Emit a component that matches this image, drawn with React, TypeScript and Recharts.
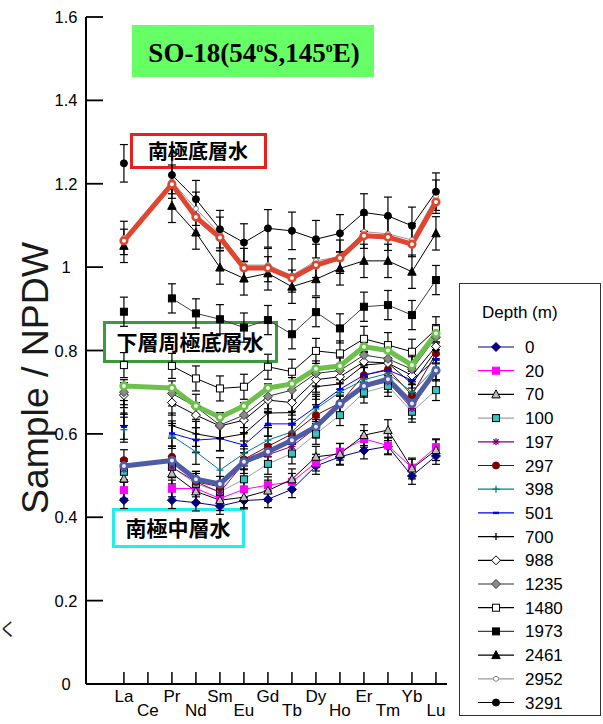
import React from 'react';
import { ComposedChart, Line, XAxis, YAxis, ErrorBar, Legend, Customized } from 'recharts';

// ---------- data ----------
const elements = ['La', 'Ce', 'Pr', 'Nd', 'Sm', 'Eu', 'Gd', 'Tb', 'Dy', 'Ho', 'Er', 'Tm', 'Yb', 'Lu'];
const yTicks = [0, 0.2, 0.4, 0.6, 0.8, 1, 1.2, 1.4, 1.6];
const depthLabels = ['0', '20', '70', '100', '197', '297', '398', '501', '700', '988', '1235', '1480', '1973', '2461', '2952', '3291'];

const d0 = [0.441, null, 0.441, 0.435, 0.427, 0.44, 0.443, 0.467, 0.523, 0.545, 0.56, 0.57, 0.499, 0.547];
const d20 = [0.465, null, 0.469, 0.469, 0.445, 0.467, 0.477, 0.485, 0.531, 0.557, 0.588, 0.572, 0.519, 0.568];
const d70 = [0.493, null, 0.505, 0.462, 0.441, 0.448, 0.464, 0.491, 0.545, 0.552, 0.597, 0.609, 0.517, 0.561];
const d100 = [0.509, null, 0.521, 0.48, 0.461, 0.491, 0.528, 0.553, 0.6, 0.645, 0.699, 0.715, 0.653, 0.705];
const d197 = [0.515, null, 0.52, 0.485, 0.46, 0.53, 0.55, 0.57, 0.615, 0.668, 0.713, 0.725, 0.661, 0.752];
const d297 = [0.537, null, 0.545, 0.485, 0.473, 0.539, 0.57, 0.6, 0.645, 0.674, 0.741, 0.755, 0.693, 0.793];
const d398 = [0.61, null, 0.595, 0.557, 0.513, 0.553, 0.585, 0.605, 0.66, 0.7, 0.73, 0.745, 0.7, 0.76];
const d501 = [0.617, null, 0.601, 0.585, 0.589, 0.573, 0.624, 0.624, 0.665, 0.707, 0.741, 0.753, 0.729, 0.779];
const d700 = [0.65, null, 0.62, 0.6, 0.59, 0.6, 0.65, 0.651, 0.713, 0.72, 0.765, 0.77, 0.72, 0.8];
const d988 = [0.693, null, 0.675, 0.645, 0.619, 0.633, 0.681, 0.675, 0.73, 0.737, 0.773, 0.77, 0.74, 0.81];
const d1235 = [0.7, null, 0.697, 0.665, 0.621, 0.645, 0.69, 0.705, 0.745, 0.752, 0.789, 0.78, 0.755, 0.832];
const d1480 = [0.765, null, 0.763, 0.733, 0.709, 0.713, 0.761, 0.749, 0.799, 0.793, 0.828, 0.813, 0.797, 0.851];
const d1973 = [0.893, null, 0.925, 0.889, 0.875, 0.855, 0.873, 0.839, 0.892, 0.853, 0.905, 0.909, 0.885, 0.969];
const d2461 = [1.051, null, 1.147, 1.083, 0.999, 0.973, 0.985, 0.953, 0.971, 0.997, 1.015, 1.015, 0.989, 1.081];
const d2952 = [1.07, null, 1.205, 1.14, 1.08, 1.005, 1.005, 0.98, 1.015, 1.025, 1.085, 1.08, 1.065, 1.169];
const d3291 = [1.249, null, 1.221, 1.163, 1.091, 1.059, 1.093, 1.087, 1.067, 1.081, 1.131, 1.123, 1.099, 1.181];

// error bar half-widths per depth
const depthErrors = [0.02, 0.02, 0.025, 0.025, 0.025, 0.025, 0.03, 0.03, 0.03, 0.03, 0.03, 0.03, 0.035, 0.04, 0.04, 0.045];

// highlighted water masses
const aabw = [1.063, null, 1.199, 1.12, 1.071, 0.998, 0.998, 0.974, 1.005, 1.022, 1.075, 1.072, 1.055, 1.156];
const lcdw = [0.715, null, 0.71, 0.667, 0.64, 0.667, 0.71, 0.72, 0.756, 0.763, 0.809, 0.8, 0.765, 0.841];
const aaiw = [0.523, null, 0.536, 0.491, 0.48, 0.533, 0.557, 0.585, 0.617, 0.672, 0.715, 0.731, 0.673, 0.752];

// ---------- styles ----------
type Kind = 'diamond' | 'square' | 'triangle' | 'star' | 'circle' | 'plus' | 'dash' | 'smallcircle';
const depthValues = [d0, d20, d70, d100, d197, d297, d398, d501, d700, d988, d1235, d1480, d1973, d2461, d2952, d3291];
const styles: { line: string; kind: Kind; fill: string; stroke: string }[] = [
  { line: '#000080', kind: 'diamond', fill: '#000080', stroke: '#000080' },
  { line: '#FF00FF', kind: 'square', fill: '#FF00FF', stroke: '#FF00FF' },
  { line: '#000000', kind: 'triangle', fill: '#BDBDBD', stroke: '#000000' },
  { line: '#A0A0A0', kind: 'square', fill: '#33C4C4', stroke: '#000000' },
  { line: '#800080', kind: 'star', fill: '#800080', stroke: '#800080' },
  { line: '#800000', kind: 'circle', fill: '#800000', stroke: '#800000' },
  { line: '#008080', kind: 'plus', fill: '#008080', stroke: '#008080' },
  { line: '#0000FF', kind: 'dash', fill: '#0000FF', stroke: '#0000FF' },
  { line: '#000000', kind: 'plus', fill: '#000000', stroke: '#000000' },
  { line: '#000000', kind: 'diamond', fill: '#FFFFFF', stroke: '#000000' },
  { line: '#303030', kind: 'diamond', fill: '#8A8A8A', stroke: '#404040' },
  { line: '#000000', kind: 'square', fill: '#FFFFFF', stroke: '#000000' },
  { line: '#404040', kind: 'square', fill: '#000000', stroke: '#000000' },
  { line: '#000000', kind: 'triangle', fill: '#000000', stroke: '#000000' },
  { line: '#9A9A9A', kind: 'smallcircle', fill: '#FFFFFF', stroke: '#808080' },
  { line: '#000000', kind: 'circle', fill: '#000000', stroke: '#000000' },
];

const highlights = [
  { key: 'aabw', values: aabw, color: '#E0452F', inner: '#FFFFFF' },
  { key: 'lcdw', values: lcdw, color: '#6DC04B', inner: '#F2FFF0' },
  { key: 'aaiw', values: aaiw, color: '#4E5CA6', inner: '#E8ECFF' },
];

const data = elements.map((el, i) => {
  const row: Record<string, any> = { x: i, el };
  depthValues.forEach((vals, j) => {
    row['s' + j] = vals[i];
    row['e' + j] = vals[i] == null ? null : depthErrors[j];
  });
  highlights.forEach((h) => {
    row[h.key] = h.values[i];
  });
  return row;
});

// ---------- markers ----------
function Marker({ kind, cx, cy, fill, stroke }: { kind: Kind; cx: number; cy: number; fill: string; stroke: string }) {
  switch (kind) {
    case 'diamond':
      return <polygon points={`${cx},${cy - 4.5} ${cx + 4.5},${cy} ${cx},${cy + 4.5} ${cx - 4.5},${cy}`} fill={fill} stroke={stroke} strokeWidth={1} />;
    case 'square':
      return <rect x={cx - 3.5} y={cy - 3.5} width={7} height={7} fill={fill} stroke={stroke} strokeWidth={1} />;
    case 'triangle':
      return <polygon points={`${cx},${cy - 4.5} ${cx + 4.2},${cy + 3.5} ${cx - 4.2},${cy + 3.5}`} fill={fill} stroke={stroke} strokeWidth={1} />;
    case 'star':
      return (
        <g stroke={stroke} strokeWidth={1.3}>
          <line x1={cx - 3.5} y1={cy} x2={cx + 3.5} y2={cy} />
          <line x1={cx} y1={cy - 3.5} x2={cx} y2={cy + 3.5} />
          <line x1={cx - 2.6} y1={cy - 2.6} x2={cx + 2.6} y2={cy + 2.6} />
          <line x1={cx - 2.6} y1={cy + 2.6} x2={cx + 2.6} y2={cy - 2.6} />
        </g>
      );
    case 'circle':
      return <circle cx={cx} cy={cy} r={3.5} fill={fill} stroke={stroke} strokeWidth={1} />;
    case 'smallcircle':
      return <circle cx={cx} cy={cy} r={2.5} fill={fill} stroke={stroke} strokeWidth={1} />;
    case 'plus':
      return (
        <g stroke={stroke} strokeWidth={1.3}>
          <line x1={cx - 3.5} y1={cy} x2={cx + 3.5} y2={cy} />
          <line x1={cx} y1={cy - 3.5} x2={cx} y2={cy + 3.5} />
        </g>
      );
    case 'dash':
      return <rect x={cx - 3} y={cy - 1.2} width={6} height={2.4} fill={fill} />;
    default:
      return null;
  }
}

const makeDot = (j: number) => (props: any) => {
  const { cx, cy, index } = props;
  if (cx == null || cy == null || isNaN(cx) || isNaN(cy)) return <g key={`d${j}-${index}`} />;
  const s = styles[j];
  return (
    <g key={`d${j}-${index}`}>
      <Marker kind={s.kind} cx={cx} cy={cy} fill={s.fill} stroke={s.stroke} />
    </g>
  );
};

const makeHiDot = (color: string, inner: string) => (props: any) => {
  const { cx, cy, index } = props;
  if (cx == null || cy == null || isNaN(cx) || isNaN(cy)) return <g key={`h-${index}`} />;
  return <circle key={`h-${index}`} cx={cx} cy={cy} r={3.3} fill={inner} stroke={color} strokeWidth={2.6} />;
};

// ---------- axes ticks ----------
const XTick = (props: any) => {
  const { x, y, payload } = props;
  const i = payload.value as number;
  const label = elements[i];
  const low = i % 2 === 1;
  return (
    <g>
      <line x1={x} y1={y} x2={x} y2={y - 12} stroke="#000" strokeWidth={1.5} />
      <text x={x} y={low ? y + 32 : y + 18} textAnchor="middle" fontSize={17} fontFamily="Liberation Sans, Arial, sans-serif" fill="#000">
        {label}
      </text>
    </g>
  );
};

const YTick = (props: any) => {
  const { x, y, payload } = props;
  return (
    <g>
      <line x1={x} y1={y} x2={x + 17} y2={y} stroke="#000" strokeWidth={1.8} />
      <text x={x - 20} y={y + 6} textAnchor="middle" fontSize={16.5} fontFamily="Liberation Sans, Arial, sans-serif" fill="#000">
        {String(payload.value)}
      </text>
    </g>
  );
};

// ---------- legend ----------
const LegendBox = () => (
  <svg width={143} height={434} style={{ display: 'block' }}>
    <rect x={0.5} y={0.5} width={141} height={432} fill="#fff" stroke="#333" strokeWidth={1} />
    <text x={23} y={35} fontSize={17} fontFamily="Liberation Sans, Arial, sans-serif" fill="#000">Depth (m)</text>
    {depthLabels.map((lab, i) => {
      const cy = 64 + i * 23.7;
      const s = styles[i];
      return (
        <g key={lab}>
          <line x1={19} x2={55} y1={cy} y2={cy} stroke={s.line} strokeWidth={1.2} />
          <Marker kind={s.kind} cx={37} cy={cy} fill={s.fill} stroke={s.stroke} />
          <text x={66} y={cy + 6} fontSize={17} fontFamily="Liberation Sans, Arial, sans-serif" fill="#000">{lab}</text>
        </g>
      );
    })}
  </svg>
);

// ---------- annotations ----------
const cjk = '"Noto Sans CJK JP", "Noto Sans CJK SC", sans-serif';
const Annotations = () => (
  <g>
    <text
      transform="translate(48,378) rotate(-90)"
      textAnchor="middle"
      fontSize={36}
      textLength={272}
      lengthAdjust="spacingAndGlyphs"
      fontFamily="Liberation Sans, Arial, sans-serif"
      fill="#1a1a1a"
    >
      Sample / NPDW
    </text>
    <text x={-1} y={636} fontSize={18} fontFamily={cjk} fill="#222">く</text>
    <rect x={132} y={25} width={242} height={52} fill="#66FF66" />
    <text x={254} y={62} textAnchor="middle" fontSize={27} fontWeight="bold" fontFamily="Liberation Serif, Times New Roman, serif" fill="#000">
      SO-18(54<tspan dy={-10} fontSize={14}>o</tspan><tspan dy={10}>S,145</tspan><tspan dy={-10} fontSize={14}>o</tspan><tspan dy={10}>E)</tspan>
    </text>
    <rect x={131.5} y={134.5} width={134} height={33} fill="#fff" stroke="#E8201A" strokeWidth={3} />
    <text x={198} y={159} textAnchor="middle" fontSize={20} fontWeight="bold" fontFamily={cjk} fill="#000">南極底層水</text>
    <rect x={104.5} y={322.5} width={172} height={39} fill="#fff" stroke="#3C9A3C" strokeWidth={3} />
    <text x={190} y={350} textAnchor="middle" fontSize={21} fontWeight="bold" fontFamily={cjk} fill="#000">下層周極底層水</text>
    <rect x={113.5} y={509.5} width={130} height={37} fill="#fff" stroke="#22EEEE" strokeWidth={3} />
    <text x={178} y={536} textAnchor="middle" fontSize={21} fontWeight="bold" fontFamily={cjk} fill="#000">南極中層水</text>
  </g>
);

const xDomain = [-1.58, 13.46];

export default function App() {
  return (
    <div style={{ position: 'absolute', left: 0, top: 0, width: 603, height: 724, background: '#fff' }}>
      <ComposedChart width={603} height={724} data={data} margin={{ top: 17, right: 156, bottom: 0, left: 26 }}>
        <XAxis
          dataKey="x"
          type="number"
          domain={xDomain}
          ticks={elements.map((_, i) => i)}
          interval={0}
          allowDataOverflow
          height={40}
          tickSize={0}
          tickMargin={0}
          tickLine={false}
          tick={<XTick />}
          axisLine={{ stroke: '#000', strokeWidth: 2 }}
        />
        <XAxis xAxisId="top" orientation="top" type="number" domain={xDomain} allowDataOverflow height={0} tick={false} tickLine={false} axisLine={{ stroke: '#000', strokeWidth: 2 }} />
        <YAxis
          type="number"
          domain={[0, 1.6]}
          ticks={yTicks}
          interval={0}
          allowDataOverflow
          width={60}
          tickSize={0}
          tickMargin={0}
          tickLine={false}
          tick={<YTick />}
          axisLine={{ stroke: '#000', strokeWidth: 2 }}
        />
        <YAxis yAxisId="right" orientation="right" type="number" domain={[0, 1.6]} width={0} tick={false} tickLine={false} axisLine={{ stroke: '#000', strokeWidth: 2 }} />
        {depthValues.map((_, j) => (
          <Line
            key={'s' + j}
            dataKey={'s' + j}
            name={depthLabels[j]}
            stroke={styles[j].line}
            strokeWidth={1}
            dot={makeDot(j)}
            activeDot={false}
            isAnimationActive={false}
            connectNulls={false}
          >
            <ErrorBar dataKey={'e' + j} width={4} stroke="#000" strokeWidth={1.2} direction="y" isAnimationActive={false} />
          </Line>
        ))}
        {highlights.map((h) => (
          <Line
            key={h.key}
            dataKey={h.key}
            stroke={h.color}
            strokeWidth={5}
            strokeLinejoin="round"
            dot={makeHiDot(h.color, h.inner)}
            activeDot={false}
            isAnimationActive={false}
            connectNulls
            legendType="none"
          />
        ))}
        <Legend
          layout="horizontal"
          verticalAlign="middle"
          align="center"
          content={() => <LegendBox />}
          wrapperStyle={{ position: 'absolute', left: 459, top: 283, width: 143, height: 434 }}
        />
        <Customized component={Annotations} />
      </ComposedChart>
    </div>
  );
}
